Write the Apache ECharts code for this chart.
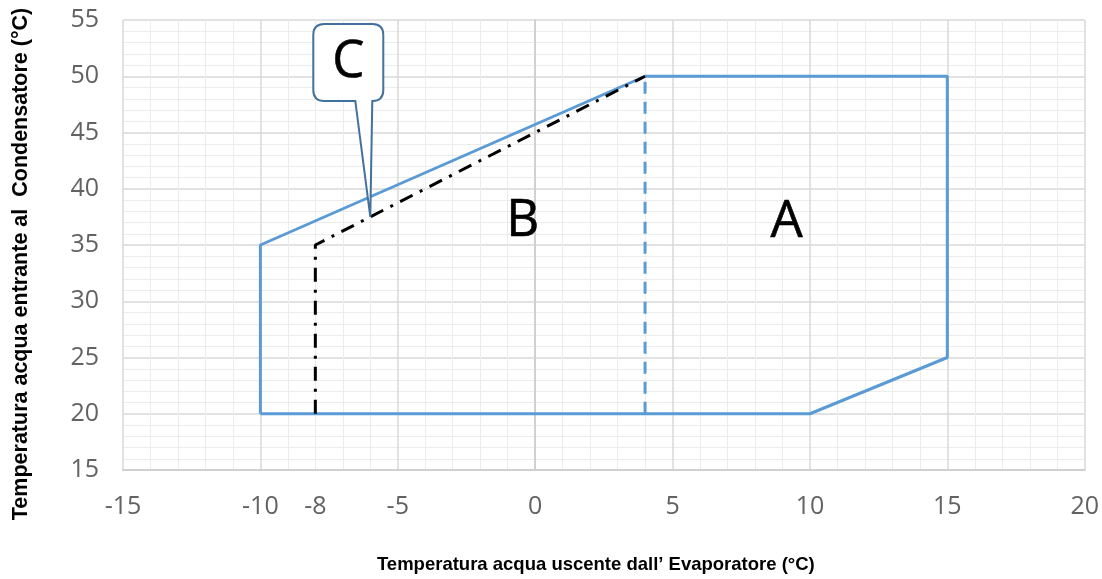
<!DOCTYPE html>
<html>
<head>
<meta charset="utf-8">
<script src="https://cdn.jsdelivr.net/npm/echarts@6/dist/echarts.min.js"></script>
<style>
html,body{margin:0;padding:0;background:#fff;}
#chart{width:1102px;height:579px;}
</style>
</head>
<body>
<div id="chart"></div>
<script>
// ---- data ----
const xTickLabels = [-15, -10, -8, -5, 0, 5, 10, 15, 20];
const envelope = [[-10, 20], [-10, 35], [4, 50], [15, 50], [15, 25], [10, 20], [-10, 20]];
const dividerAB = [[4, 20], [4, 50]];
const regionC = [[-8, 20], [-8, 35], [4, 50]];
const regionLabels = [[-0.45, 37.1, 'B'], [9.15, 37.0, 'A']];
const calloutTip = [[-6, 37.5, 'C']];
const xTitle = 'Temperatura acqua uscente dall\u2019 Evaporatore (°C)';
const yTitle = 'Temperatura acqua entrante al  Condensatore (°C)';

const chart = echarts.init(document.getElementById('chart'));
const blue = '#5b9bd5';
const labelFont = 'Open Sans';

const option = {
  animation: false,
  backgroundColor: '#fff',
  grid: { left: 123, right: 17, top: 20, bottom: 108, containLabel: false },
  xAxis: {
    type: 'value', min: -15, max: 20, interval: 5,
    name: xTitle, nameLocation: 'middle', nameGap: 85,
    nameTextStyle: { fontFamily: 'Liberation Sans', fontWeight: 'bold', fontSize: 18.5, color: '#000', padding: [0, 16, 0, 0] },
    axisLine: { show: true, lineStyle: { color: '#d0d0d0', width: 2 } },
    axisTick: { show: false },
    axisLabel: { customValues: xTickLabels, fontFamily: labelFont, fontSize: 25, color: '#626262', margin: 24 },
    splitLine: { show: true, lineStyle: { color: '#d9d9d9', width: 1.5 } },
    minorTick: { show: false, splitNumber: 5 },
    minorSplitLine: { show: true, lineStyle: { color: '#ececec', width: 1 } }
  },
  yAxis: {
    type: 'value', min: 15, max: 55, interval: 5,
    name: yTitle, nameLocation: 'middle', nameGap: 91, nameRotate: 90,
    nameTextStyle: { fontFamily: 'Liberation Sans', fontWeight: 'bold', fontSize: 21.5, color: '#000', padding: [0, 38, 0, 0] },
    axisLine: { show: true, lineStyle: { color: '#d0d0d0', width: 2 } },
    axisTick: { show: false },
    axisLabel: { fontFamily: labelFont, fontSize: 25, color: '#626262', margin: 24 },
    splitLine: { show: true, lineStyle: { color: '#d9d9d9', width: 1.5 } },
    minorTick: { show: false, splitNumber: 5 },
    minorSplitLine: { show: true, lineStyle: { color: '#ececec', width: 1 } }
  },
  series: [
    {
      type: 'line', data: envelope, symbol: 'none', z: 3,
      lineStyle: { color: blue, width: 3 }
    },
    {
      type: 'line', data: dividerAB, symbol: 'none', z: 3,
      lineStyle: { color: blue, width: 3, type: [12, 8] }
    },
    {
      type: 'line', data: regionC, symbol: 'none', z: 4,
      lineStyle: { color: '#000', width: 3, type: [14, 8, 3, 8] }
    },
    {
      type: 'custom', data: regionLabels, z: 5,
      renderItem: function (params, api) {
        const p = api.coord([api.value(0), api.value(1)]);
        return {
          type: 'text',
          style: { text: regionLabels[params.dataIndex][2], x: p[0], y: p[1], align: 'center', verticalAlign: 'middle', fontFamily: labelFont, fontSize: 51, fill: '#000', stroke: '#000', lineWidth: 0.6 }
        };
      }
    },
    {
      type: 'custom', data: calloutTip, z: 10,
      renderItem: function (params, api) {
        const p = api.coord([api.value(0), api.value(1)]);
        const tx = p[0], ty = p[1];
        const L = tx - 57, R = tx + 13, T = ty - 193, B = ty - 116, r = 11;
        const tl = tx - 15, tr = tx + 2;
        const d = 'M' + (L + r) + ' ' + T +
          ' L' + (R - r) + ' ' + T +
          ' Q' + R + ' ' + T + ' ' + R + ' ' + (T + r) +
          ' L' + R + ' ' + (B - r) +
          ' Q' + R + ' ' + B + ' ' + (R - r) + ' ' + B +
          ' L' + tr + ' ' + B +
          ' L' + tx + ' ' + ty +
          ' L' + tl + ' ' + B +
          ' L' + (L + r) + ' ' + B +
          ' Q' + L + ' ' + B + ' ' + L + ' ' + (B - r) +
          ' L' + L + ' ' + (T + r) +
          ' Q' + L + ' ' + T + ' ' + (L + r) + ' ' + T + ' Z';
        return {
          type: 'group',
          children: [
            { type: 'path', shape: { pathData: d }, style: { fill: '#fff', stroke: '#41719c', lineWidth: 2 } },
            { type: 'text', style: { text: calloutTip[params.dataIndex][2], x: (L + R) / 2, y: (T + B) / 2, align: 'center', verticalAlign: 'middle', fontFamily: labelFont, fontSize: 51, fill: '#000', stroke: '#000', lineWidth: 0.6 } }
          ]
        };
      }
    }
  ]
};
chart.setOption(option);
</script>
</body>
</html>
